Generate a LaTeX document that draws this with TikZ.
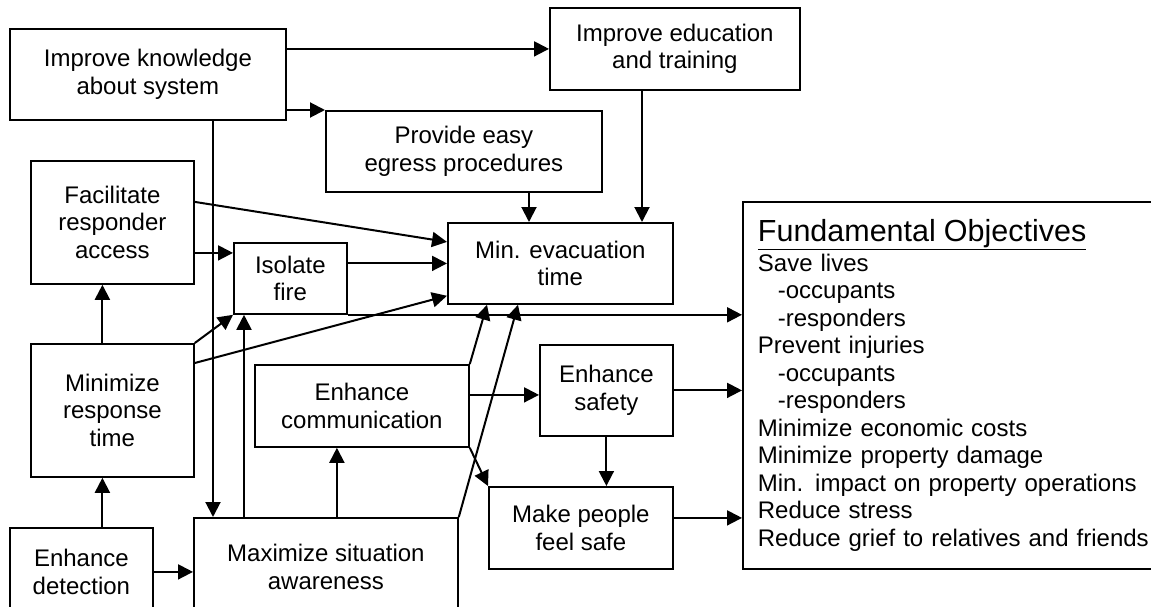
\documentclass[tikz,border=0pt]{standalone}
\usepackage{fontspec}
\setmainfont{Liberation Sans}
\usetikzlibrary{arrows.meta,positioning,calc}

\tikzset{
  goal/.style={draw, line width=1.8pt, anchor=north west, align=center, inner sep=0pt, font=\fontsize{24}{27.5}\selectfont},
  link/.style={-{Triangle[length=15pt,width=15pt]}, line width=2pt},
}

\begin{document}
\begin{tikzpicture}[x=1pt, y=-1pt]
\useasboundingbox (0,0) rectangle (1151,607);
\clip (0,0) rectangle (1151,607);

% means objectives
\node[goal, minimum width=276, minimum height=91] (know) at (9,28) {Improve knowledge\\about system};
\node[goal, minimum width=250, minimum height=82] (edu) at (549,7) {Improve education\\and training};
\node[goal, minimum width=276, minimum height=81] (egress) at (325,110) {Provide easy\\egress procedures};
\node[goal, minimum width=163, minimum height=123] (facil) at (30,160) {Facilitate\\responder\\access};
\node[goal, minimum width=113, minimum height=71] (isol) at (233,242) {Isolate\\fire};
\node[goal, minimum width=225, minimum height=81] (evac) at (447,222) {Min. evacuation\\time};
\node[goal, minimum width=163, minimum height=133] (minresp) at (30,343) {Minimize\\response\\time};
\node[goal, minimum width=214, minimum height=82] (comm) at (254,364) {Enhance\\communication};
\node[goal, minimum width=133, minimum height=91] (safety) at (539,344) {Enhance\\safety};
\node[goal, minimum width=184, minimum height=82] (feel) at (488,486) {Make people\\feel safe};
\node[goal, minimum width=143, minimum height=88] (detect) at (9,527) {Enhance\\detection};
\node[goal, minimum width=264, minimum height=98] (aware) at (193,517) {Maximize situation\\awareness};

% fundamental objectives
\node[goal, align=left, text width=398, inner xsep=15pt, minimum height=367] (fund) at (742,201)
  {{\fontsize{30.5}{30}\selectfont\underline{Fundamental Objectives}}\\[2.5pt]
   Save lives\\
   \hspace*{20pt}-occupants\\
   \hspace*{20pt}-responders\\
   Prevent injuries\\
   \hspace*{20pt}-occupants\\
   \hspace*{20pt}-responders\\
   Minimize economic costs\\
   Minimize property damage\\
   Min. impact on property operations\\
   Reduce stress\\
   Reduce grief to relatives and friends};

% helper points on the box edges
\coordinate (kA) at ($(aware.north west)+(20,0)$);
\coordinate (eE) at ($(evac.north west)+(195,0)$);
\coordinate (eP) at ($(evac.north west)+(82,0)$);
\coordinate (rN) at ($(minresp.north)+(-10,0)$);
\coordinate (rS) at ($(minresp.south)+(-10,0)$);
\coordinate (fS) at ($(facil.south)+(-10,0)$);
\coordinate (fR) at ($(facil.east)+(0,30.5)$);
\coordinate (iA) at ($(isol.south west)+(11,0)$);
\coordinate (cA) at ($(comm.south)+(-25,0)$);
\coordinate (sW) at ($(safety.west)+(0,4.5)$);
\coordinate (fF) at ($(feel.east)+(0,-10)$);

\draw[link] (know.east |- edu.west) -- (edu.west);
\draw[link] (know.east |- egress.north west) -- (egress.north west);
\draw[link] (know.south -| kA) -- (kA);
\draw[link] (edu.south -| eE) -- (eE);
\draw[link] (egress.south -| eP) -- (eP);
\draw[link] ([yshift=20.5pt]facil.east) -- ([yshift=21.5pt]evac.west);
\draw[link] (fR) -- (fR -| isol.west);
\draw[link] (isol.east |- evac.west) -- (evac.west);
\draw[link] (isol.south east) -- (isol.south east -| fund.west);
\draw[link] (rN) -- (fS);
\draw[link] (minresp.north east) -- (isol.south west);
\draw[link] ([yshift=-20pt]minresp.north east) -- ([yshift=9pt]evac.south west);
\draw[link] (detect.north -| rS) -- (rS);
\draw[link] (detect.east) -- (detect.east -| aware.west);
\draw[link] (aware.north -| iA) -- (iA);
\draw[link] (aware.north -| cA) -- (cA);
\draw[link] (aware.north east) -- ($(evac.south west)+(71,0)$);
\draw[link] (comm.north east) -- ($(evac.south west)+(40,0)$);
\draw[link] (comm.east |- sW) -- (sW);
\draw[link] (comm.south east) -- (feel.north west);
\draw[link] (safety.south) -- (safety.south |- feel.north);
\draw[link] (safety.east) -- (safety.east -| fund.west);
\draw[link] (fF) -- (fF -| fund.west);
\end{tikzpicture}
\end{document}
